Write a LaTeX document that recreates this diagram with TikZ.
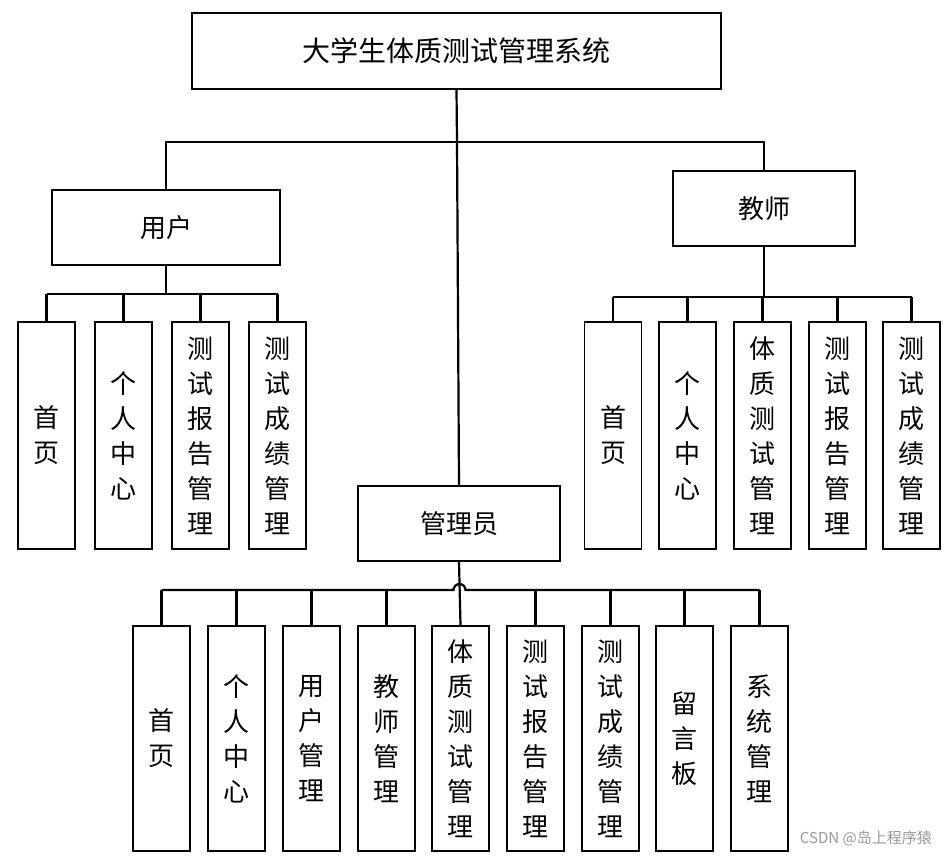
\documentclass[tikz,border=0pt]{standalone}
\usepackage{fontspec}
\newfontfamily\cjk{Noto Sans CJK SC}
\begin{document}
\begin{tikzpicture}[x=1pt,y=-1pt,
  box/.style={draw,line width=1.4pt,inner sep=0pt,align=center,font=\cjk\fontsize{26}{35}\selectfont},
  leaf/.style={box,minimum width=57pt,minimum height=227pt},
  conn/.style={line width=2.2pt}]
\useasboundingbox (0,0) rectangle (948,857);
\fill[white] (0,0) rectangle (948,857);
% top
\node[box,minimum width=529pt,minimum height=76pt,font=\cjk\fontsize{28}{35}\selectfont] (sys) at (456.5,51) {大学生体质测试管理系统};
\node[box,minimum width=228pt,minimum height=75pt] (user) at (166,227.5) {用户};
\node[box,minimum width=182pt,minimum height=75pt] (teacher) at (764,208.5) {教师};
\node[box,minimum width=202pt,minimum height=75pt] (admin) at (459,523.5) {管理员};
% user leaves
\node[leaf] (u1) at (46.5,435.5) {首\\页};
\node[leaf] (u2) at (123.5,435.5) {个\\人\\中\\心};
\node[leaf] (u3) at (200.5,435.5) {测\\试\\报\\告\\管\\理};
\node[leaf] (u4) at (277.5,435.5) {测\\试\\成\\绩\\管\\理};
% teacher leaves
\node[leaf] (t1) at (613,435.5) {首\\页};
\node[leaf] (t2) at (687.5,435.5) {个\\人\\中\\心};
\node[leaf] (t3) at (762.5,435.5) {体\\质\\测\\试\\管\\理};
\node[leaf] (t4) at (837.5,435.5) {测\\试\\报\\告\\管\\理};
\node[leaf] (t5) at (911.5,435.5) {测\\试\\成\\绩\\管\\理};
% admin leaves
\node[leaf,minimum height=225pt] (a1) at (161.5,738.5) {首\\页};
\node[leaf,minimum height=225pt] (a2) at (236.5,738.5) {个\\人\\中\\心};
\node[leaf,minimum height=225pt] (a3) at (311.5,738.5) {用\\户\\管\\理};
\node[leaf,minimum height=225pt] (a4) at (386.5,738.5) {教\\师\\管\\理};
\node[leaf,minimum height=225pt] (a5) at (460.5,738.5) {体\\质\\测\\试\\管\\理};
\node[leaf,minimum height=225pt] (a6) at (535.5,738.5) {测\\试\\报\\告\\管\\理};
\node[leaf,minimum height=225pt] (a7) at (610.5,738.5) {测\\试\\成\\绩\\管\\理};
\node[leaf,minimum height=225pt] (a8) at (684.5,738.5) {留\\言\\板};
\node[leaf,minimum height=225pt] (a9) at (759.5,738.5) {系\\统\\管\\理};
% top connectors
\coordinate (b0) at (457,142);
\draw[conn] (sys.south) -- (b0);
\draw[conn] (user.north) |- (b0) -| (teacher.north);
\draw[conn] (b0) -- (admin.north);
% user bus
\coordinate (ub) at (166,294);
\draw[conn] (user.south) -- (ub);
\draw[conn] (u1.north |- ub) -- (u4.north |- ub);
\foreach \i in {1,...,4} \draw[conn] (u\i.north) -- (u\i.north |- ub);
% teacher bus
\coordinate (tb) at (764,297);
\draw[conn] (teacher.south) -- (tb);
\draw[conn] (t1.north |- tb) -- (t5.north |- tb);
\foreach \i in {1,...,5} \draw[conn] (t\i.north) -- (t\i.north |- tb);
% admin bus
\coordinate (ab) at (459.5,590);
\draw[conn] (admin.south) -- (a5.north);
\draw[conn] (a1.north |- ab) -- ([xshift=-6pt]ab) arc[start angle=180,end angle=0,radius=6pt] -- (a9.north |- ab);
\foreach \i in {1,2,3,4,6,7,8,9} \draw[conn] (a\i.north) -- (a\i.north |- ab);
% watermark
\node[font=\cjk\fontsize{15}{15}\selectfont,text=gray!80,anchor=east,inner sep=0pt] (wm) at (932,838) {CSDN @岛上程序猿};
\end{tikzpicture}
\end{document}
